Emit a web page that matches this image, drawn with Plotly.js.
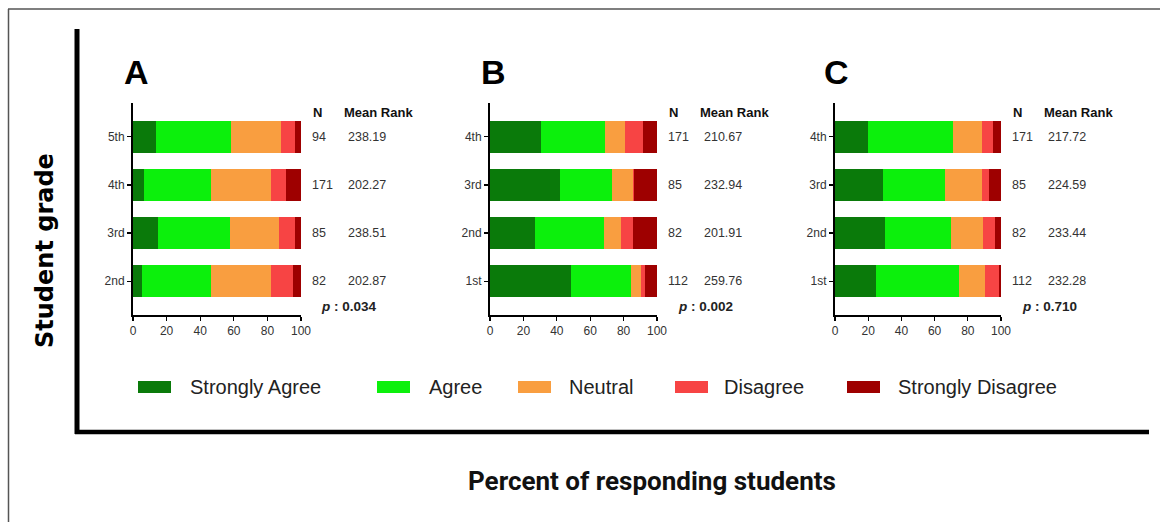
<!DOCTYPE html>
<html>
<head>
<meta charset="utf-8">
<script src="https://cdn.plot.ly/plotly-3.0.1.min.js"></script>
<style>html,body{margin:0;padding:0;background:#fff;}#chart{width:1160px;height:522px;}</style>
</head>
<body>
<div id="chart"></div>
<script>
// ---- data ----
const seriesNames = ["Strongly Agree", "Agree", "Neutral", "Disagree", "Strongly Disagree"];
const seriesColors = ["#0a7a0a", "#0cf00c", "#f99e40", "#f74444", "#9e0000"];

const gradesA = ["2nd", "3rd", "4th", "5th"];
const stronglyAgreeA = [5.6, 14.9, 6.6, 13.5];
const agreeA = [40.7, 42.8, 39.7, 45.1];
const neutralA = [35.8, 29.4, 36.0, 29.3];
const disagreeA = [13.3, 9.3, 8.8, 8.3];
const stronglyDisagreeA = [4.6, 3.6, 8.9, 3.8];
const nA = ["82", "85", "171", "94"];
const meanRankA = ["202.87", "238.51", "202.27", "238.19"];
const pA = "0.034";

const gradesB = ["1st", "2nd", "3rd", "4th"];
const stronglyAgreeB = [48.6, 27.2, 42.0, 30.4];
const agreeB = [35.8, 41.2, 31.0, 38.6];
const neutralB = [6.0, 10.0, 12.6, 11.6];
const disagreeB = [2.2, 7.0, 0.4, 10.8];
const stronglyDisagreeB = [7.4, 14.6, 14.0, 8.6];
const nB = ["112", "82", "85", "171"];
const meanRankB = ["259.76", "201.91", "232.94", "210.67"];
const pB = "0.002";

const gradesC = ["1st", "2nd", "3rd", "4th"];
const stronglyAgreeC = [24.7, 30.1, 28.7, 20.1];
const agreeC = [49.8, 39.8, 37.6, 50.8];
const neutralC = [15.9, 19.5, 22.1, 17.5];
const disagreeC = [8.6, 7.0, 4.6, 7.0];
const stronglyDisagreeC = [1.0, 3.6, 7.0, 4.6];
const nC = ["112", "82", "85", "171"];
const meanRankC = ["232.28", "233.44", "224.59", "217.72"];
const pC = "0.710";

const panelLetters = ["A", "B", "C"];
const xTicks = [0, 20, 40, 60, 80, 100];
const yTitle = "Student grade";
const xTitle = "Percent of responding students";

// ---- build ----
const W = 1160, H = 522;
const px = v => v / W;
const py = v => 1 - v / H;
const FONT = "Liberation Sans, Arial, sans-serif";

const panels = [
  {grades: gradesA, vals: [stronglyAgreeA, agreeA, neutralA, disagreeA, stronglyDisagreeA], n: nA, mr: meanRankA, p: pA, x0: 133, x1: 301, letterX: 136},
  {grades: gradesB, vals: [stronglyAgreeB, agreeB, neutralB, disagreeB, stronglyDisagreeB], n: nB, mr: meanRankB, p: pB, x0: 490, x1: 657, letterX: 493},
  {grades: gradesC, vals: [stronglyAgreeC, agreeC, neutralC, disagreeC, stronglyDisagreeC], n: nC, mr: meanRankC, p: pC, x0: 835, x1: 1001, letterX: 836}
];
const yTop = 103, yBot = 315;

const traces = [];
const annotations = [];
const shapes = [];
const layout = {
  width: W, height: H,
  margin: {l: 0, r: 0, t: 0, b: 0},
  paper_bgcolor: "#ffffff", plot_bgcolor: "#ffffff",
  barmode: "stack", bargap: 0.33,
  showlegend: false,
  font: {family: FONT, color: "#222"}
};

panels.forEach((pn, i) => {
  const k = i === 0 ? "" : String(i + 1);
  const xa = "x" + k, ya = "y" + k;
  pn.vals.forEach((arr, s) => {
    traces.push({
      type: "bar", orientation: "h",
      y: pn.grades, x: arr,
      name: seriesNames[s],
      marker: {color: seriesColors[s], line: {width: 0}},
      xaxis: xa, yaxis: ya,
      hoverinfo: "x+y+name"
    });
  });
  layout["xaxis" + k] = {
    domain: [px(pn.x0), px(pn.x1)], anchor: ya,
    range: [0, 100], tickvals: xTicks, ticks: "outside", ticklen: 4, tickwidth: 1.2, tickcolor: "#000",
    showline: true, linecolor: "#000", linewidth: 2, showgrid: false, zeroline: false,
    tickfont: {family: FONT, size: 12, color: "#333"}, fixedrange: true
  };
  layout["yaxis" + k] = {
    domain: [py(yBot), py(yTop)], anchor: xa,
    type: "category", categoryarray: pn.grades, range: [-0.7, 3.7],
    ticks: "outside", ticklen: 4, tickwidth: 1.2, tickcolor: "#000",
    showline: true, linecolor: "#000", linewidth: 2, showgrid: false, zeroline: false,
    tickfont: {family: FONT, size: 12, color: "#333"}, fixedrange: true
  };
  // panel letter
  annotations.push({xref: "paper", yref: "paper", x: px(pn.letterX), y: py(72), text: "<b>" + panelLetters[i] + "</b>",
    showarrow: false, xanchor: "center", yanchor: "middle", font: {family: FONT, size: 34, color: "#000"}});
  // headers
  annotations.push({xref: xa, yref: ya + " domain", x: 100, y: (yBot - 112) / (yBot - yTop), xshift: 16, text: "<b>N</b>",
    showarrow: false, xanchor: "center", yanchor: "middle", font: {family: FONT, size: 13, color: "#111"}});
  annotations.push({xref: xa, yref: ya + " domain", x: 100, y: (yBot - 112) / (yBot - yTop), xshift: 77, text: "<b>Mean Rank</b>",
    showarrow: false, xanchor: "center", yanchor: "middle", font: {family: FONT, size: 13, color: "#111"}});
  shapes.push({type: "line", xref: xa, yref: ya + " domain", xsizemode: "pixel", xanchor: 100, x0: 7, x1: 114,
    y0: (yBot - 120) / (yBot - yTop), y1: (yBot - 120) / (yBot - yTop), line: {color: "#000", width: 1.3}});
  pn.grades.forEach((g, j) => {
    annotations.push({xref: xa, yref: ya, x: 100, y: g, xshift: 9, text: pn.n[j], showarrow: false,
      xanchor: "left", yanchor: "middle", font: {family: FONT, size: 12.5, color: "#333"}});
    annotations.push({xref: xa, yref: ya, x: 100, y: g, xshift: 45, text: pn.mr[j], showarrow: false,
      xanchor: "left", yanchor: "middle", font: {family: FONT, size: 12.5, color: "#333"}});
  });
  annotations.push({xref: xa, yref: ya + " domain", x: 100, y: (yBot - 306) / (yBot - yTop), xshift: 48,
    text: "<b><i>p</i> : " + pn.p + "</b>", showarrow: false, xanchor: "center", yanchor: "middle",
    font: {family: FONT, size: 13.5, color: "#222"}});
});

// frame
shapes.push({type: "line", xref: "paper", yref: "paper", x0: px(8), x1: 1, y0: py(9), y1: py(9), line: {color: "#555", width: 1.5}});
shapes.push({type: "line", xref: "paper", yref: "paper", x0: px(8.5), x1: px(8.5), y0: py(9), y1: 0, line: {color: "#555", width: 1.5}});
shapes.push({type: "line", xref: "paper", yref: "paper", x0: px(77), x1: px(77), y0: py(29), y1: py(434), line: {color: "#000", width: 5}});
shapes.push({type: "line", xref: "paper", yref: "paper", x0: px(75), x1: px(1149), y0: py(432), y1: py(432), line: {color: "#000", width: 4.5}});

// custom legend
const legendSw = [138, 377, 518, 675, 847];
const legendTx = [188, 427, 567, 722, 896];
seriesNames.forEach((nm, s) => {
  shapes.push({type: "rect", xref: "paper", yref: "paper", x0: px(legendSw[s]), x1: px(legendSw[s] + 33),
    y0: py(393), y1: py(381), fillcolor: seriesColors[s], line: {width: 0}});
  annotations.push({xref: "paper", yref: "paper", x: px(legendTx[s]), y: py(387), text: nm, showarrow: false,
    xanchor: "left", yanchor: "middle", font: {family: FONT, size: 20, color: "#222"}});
});

// titles
annotations.push({xref: "paper", yref: "paper", x: px(45), y: py(251), text: "<b>" + yTitle + "</b>", textangle: -90,
  showarrow: false, xanchor: "center", yanchor: "middle", font: {family: "DejaVu Sans, sans-serif", size: 24, color: "#000"}});
annotations.push({xref: "paper", yref: "paper", x: px(652), y: py(481), text: "<b>" + xTitle + "</b>",
  showarrow: false, xanchor: "center", yanchor: "middle", font: {family: "Roboto, sans-serif", size: 26, color: "#111"}});

layout.annotations = annotations;
layout.shapes = shapes;

Plotly.newPlot("chart", traces, layout, {displayModeBar: false, staticPlot: true});
</script>
</body>
</html>
